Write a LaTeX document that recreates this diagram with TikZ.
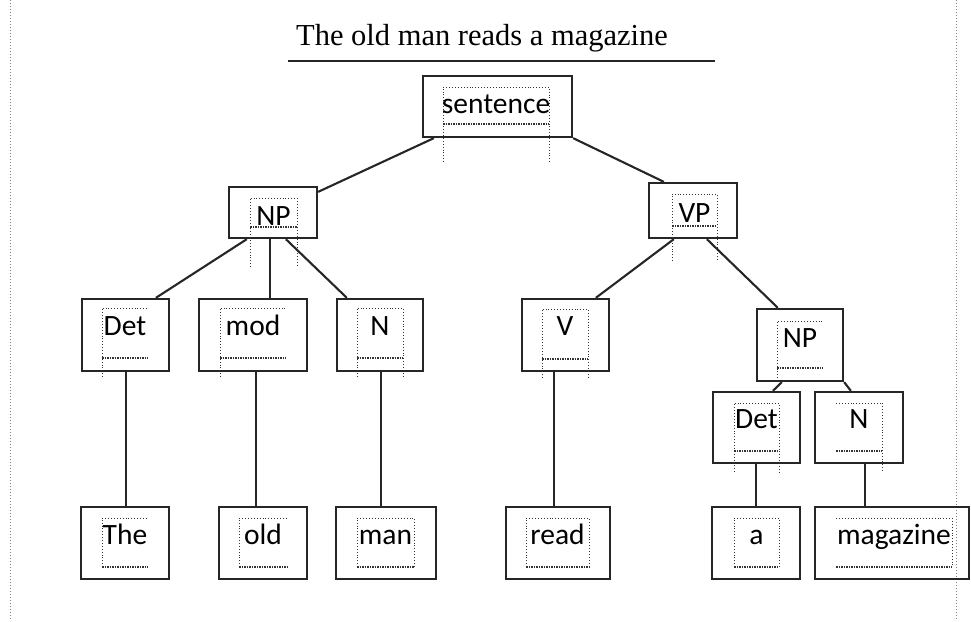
\documentclass[tikz,border=0pt]{standalone}
\usepackage{fontspec}
\setmainfont{Liberation Serif}
\newfontfamily\boxfont{Carlito}
\usetikzlibrary{fit}

% dotted text frame: left side, top, right side, wavy bottom; sides reach down to #5
\newcommand\frameLR[5]{%
  \draw[dotframe] (#1,#5) -- (#1,#2) -- (#3,#2) -- (#3,#5);
  \draw[dotbottom] (#1,#4) -- (#3,#4);}
% frame with left side only
\newcommand\frameL[5]{%
  \draw[dotframe] (#1,#5) -- (#1,#2) -- (#3,#2);
  \draw[dotbottom] (#1,#4) -- (#3,#4);}
% frame with right side only
\newcommand\frameR[5]{%
  \draw[dotframe] (#1,#2) -- (#3,#2) -- (#3,#5);
  \draw[dotbottom] (#1,#4) -- (#3,#4);}

\begin{document}
\begin{tikzpicture}[x=1pt,y=-1pt,
  outerbox/.style={draw=black!85, line width=2.3pt, inner sep=0pt, fit={#1}},
  lbl/.style={font=\boxfont\fontsize{29.5}{29.5}\selectfont, inner sep=0pt, anchor=base},
  branch/.style={draw=black!85, line width=2.1pt},
  dotframe/.style={black!80, line width=0.9pt, dotted},
  dotbottom/.style={black!80, line width=1.5pt, densely dotted},
  border/.style={gray, line width=1pt, dotted}]

\useasboundingbox (0,0) rectangle (971,621);

% page margins
\coordinate (lt) at (10,0);   \coordinate (lb) at (10,621);
\coordinate (rt) at (956,0);  \coordinate (rb) at (956,621);
\draw[border] (lt) -- (lb);
\draw[border] (rt) -- (rb);

% heading
\node[font=\fontsize{30.5}{30.5}\selectfont, inner sep=0pt, anchor=base] (title) at (482,45) {The old man reads a magazine};
\coordinate (ul) at (288,61); \coordinate (ur) at (715,61);
\draw[line width=2pt, black!85] (ul) -- (ur);

% boxes
\node[outerbox={(423,76) (572,137)}]  (sentence) {};
\node[outerbox={(229,187) (317,238)}] (np) {};
\node[outerbox={(649,183) (737,238)}] (vp) {};
\node[outerbox={(82,299) (169,371)}]  (det) {};
\node[outerbox={(199,299) (307,371)}] (mod) {};
\node[outerbox={(337,299) (423,371)}] (n) {};
\node[outerbox={(522,299) (609,371)}] (v) {};
\node[outerbox={(757,309) (843,381)}] (np2) {};
\node[outerbox={(713,392) (800,463)}] (det2) {};
\node[outerbox={(815,392) (903,463)}] (n2) {};
\node[outerbox={(81,507) (169,579)}]  (the) {};
\node[outerbox={(219,507) (307,579)}] (old) {};
\node[outerbox={(336,507) (436,579)}] (man) {};
\node[outerbox={(506,507) (610,579)}] (read) {};
\node[outerbox={(712,507) (800,579)}] (a) {};
\node[outerbox={(815,507) (969,579)}] (magazine) {};

% dotted text frames
\frameLR{443}{87}{549}{124}{162}
\frameLR{250}{198}{297}{227}{267}
\frameLR{672}{194}{717}{226}{261}
\frameL{102}{308}{148}{358}{377}
\frameL{220}{308}{286}{358}{377}
\frameLR{357}{308}{403}{358}{377}
\frameLR{542}{309}{588}{359}{378}
\frameL{777}{321}{823}{368}{381}
\frameLR{734}{403}{779}{451}{472}
\frameR{836}{403}{882}{451}{472}
\frameL{102}{518}{148}{567}{567}
\frameL{239}{518}{287}{567}{567}
\frameLR{357}{518}{414}{567}{567}
\frameLR{526}{518}{589}{567}{567}
\frameLR{734}{518}{779}{567}{567}
\frameR{836}{518}{952}{567}{567}

% labels
\node[lbl] (sentence-t) at (496,113) {sentence};
\node[lbl] (np-t)       at (273.5,225) {NP};
\node[lbl] (vp-t)       at (694.5,222) {VP};
\node[lbl] (det-t)      at (125,335) {Det};
\node[lbl] (mod-t)      at (253,335) {mod};
\node[lbl] (n-t)        at (380,335) {N};
\node[lbl] (v-t)        at (565,335) {V};
\node[lbl] (np2-t)      at (800,347) {NP};
\node[lbl] (det2-t)     at (756.5,428) {Det};
\node[lbl] (n2-t)       at (859,428) {N};
\node[lbl] (the-t)      at (125,544) {The};
\node[lbl] (old-t)      at (263,544) {old};
\node[lbl] (man-t)      at (385.5,544) {man};
\node[lbl] (read-t)     at (557.5,544) {read};
\node[lbl] (a-t)        at (756.5,544) {a};
\node[lbl] (magazine-t) at (894,544) {magazine};

% branches
\draw[branch] ([xshift=12pt]sentence.south west) -- ([yshift=-6pt]np.north east);
\draw[branch] (sentence.south east) -- ([xshift=16pt]vp.north west);
\draw[branch] ([xshift=19pt]np.south west) -- ([xshift=75pt]det.north west);
\draw[branch] ([xshift=42pt]np.south west) -- ([xshift=72pt]mod.north west);
\draw[branch] ([xshift=58pt]np.south west) -- ([xshift=11pt]n.north west);
\draw[branch] ([xshift=26pt]vp.south west) -- ([xshift=75pt]v.north west);
\draw[branch] ([xshift=59pt]vp.south west) -- ([xshift=22pt]np2.north west);
\draw[branch] ([xshift=26pt]np2.south west) -- ([xshift=61pt]det2.north west);
\draw[branch] (np2.south east) -- ([xshift=37pt]n2.north west);
\draw[branch] ([xshift=45pt]det.south west) -- ([xshift=46pt]the.north west);
\draw[branch] ([xshift=58pt]mod.south west) -- ([xshift=38pt]old.north west);
\draw[branch] ([xshift=45pt]n.south west) -- ([xshift=46pt]man.north west);
\draw[branch] ([xshift=33pt]v.south west) -- ([xshift=49pt]read.north west);
\draw[branch] ([xshift=44pt]det2.south west) -- ([xshift=45pt]a.north west);
\draw[branch] ([xshift=51pt]n2.south west) -- ([xshift=51pt]magazine.north west);
\end{tikzpicture}
\end{document}
